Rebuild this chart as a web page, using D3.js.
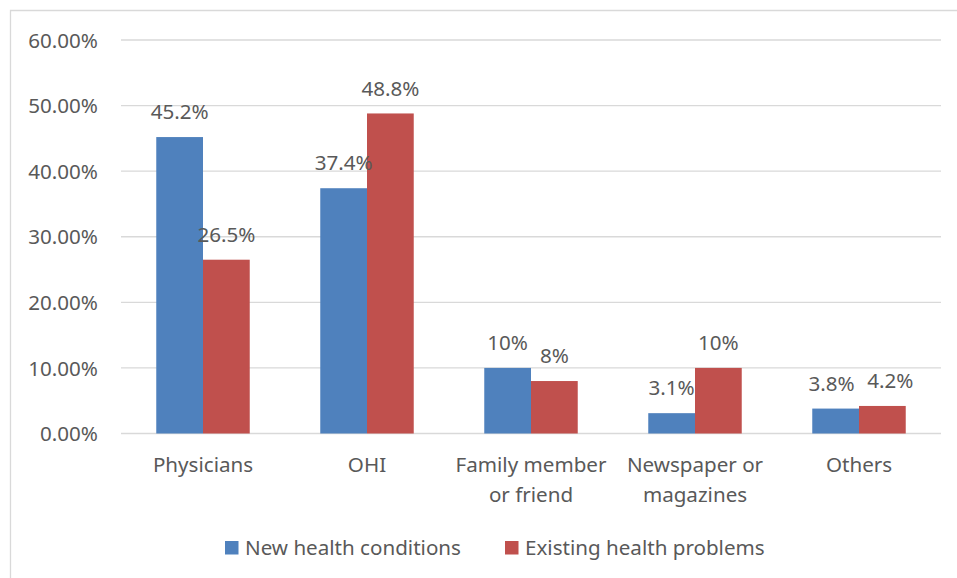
<!DOCTYPE html>
<meta charset="utf-8">
<script src="https://d3js.org/d3.v7.min.js"></script>
<style>
  body { margin: 0; background: #fff; }
  text { font-family: "Noto Sans", "Open Sans", sans-serif; fill: #595959; }
</style>
<div id="my_dataviz"></div>
<script>
    // data
    var categories = [["Physicians"], ["OHI"], ["Family member", "or friend"], ["Newspaper or", "magazines"], ["Others"]];
    var seriesNames = ["New health conditions", "Existing health problems"];
    var newValues = [45.2, 37.4, 10, 3.1, 3.8];
    var existingValues = [26.5, 48.8, 8, 10, 4.2];
    var newLabels = ["45.2%", "37.4%", "10%", "3.1%", "3.8%"];
    var existingLabels = ["26.5%", "48.8%", "8%", "10%", "4.2%"];
    var yTicks = [0, 10, 20, 30, 40, 50, 60];
    var colors = ["#4f81bd", "#c0504d"];

    var W = 957, H = 578;
    var fs = 20.6;
    var margin = {top: 40, right: 16, bottom: 144.5, left: 121},
        width = W - margin.left - margin.right,
        height = H - margin.top - margin.bottom;

    var root = d3.select("#my_dataviz")
        .append("svg")
        .attr("width", W)
        .attr("height", H);

    // chart frame (only top and left edges show in the crop)
    root.append("path")
        .attr("d", "M10.5,578V10.5H957")
        .attr("fill", "none")
        .attr("stroke", "#d9d9d9")
        .attr("stroke-width", 1.3);

    var svg = root.append("g")
        .attr("transform", "translate(" + margin.left + "," + margin.top + ")");

    var names = categories.map(function(d) { return d.join(" "); });

    var x = d3.scaleBand()
        .domain(names)
        .range([0, width]);

    var inner = d3.scaleBand()
        .domain([0, 1])
        .range([0, x.bandwidth() * 0.57])
        .padding(0);

    var y = d3.scaleLinear()
        .domain([0, 60])
        .range([height, 0]);

    // gridlines
    svg.append("g")
        .selectAll("line")
        .data(yTicks)
        .enter()
        .append("line")
        .attr("x1", 0)
        .attr("x2", width)
        .attr("y1", function(d) { return y(d); })
        .attr("y2", function(d) { return y(d); })
        .attr("stroke", "#d9d9d9")
        .attr("stroke-width", 1.3);

    // Y axis labels
    var yAxis = svg.append("g")
        .attr("transform", "translate(-23,0)")
        .call(d3.axisLeft(y).tickValues(yTicks).tickSize(0).tickPadding(0)
            .tickFormat(function(d) { return d.toFixed(2) + "%"; }));
    yAxis.select(".domain").remove();
    yAxis.selectAll("text")
        .attr("font-size", fs)
        .attr("font-family", null)
        .attr("fill", "#595959")
        .attr("dy", "0.35em");

    // X axis labels
    var xAxis = svg.append("g")
        .attr("transform", "translate(0," + height + ")")
        .call(d3.axisBottom(x).tickSize(0).tickFormat(""));
    xAxis.select(".domain").remove();
    xAxis.selectAll(".tick").each(function(d, i) {
        var t = d3.select(this).append("text")
            .attr("font-size", fs)
            .attr("text-anchor", "middle");
        categories[i].forEach(function(line, j) {
            t.append("tspan")
                .attr("x", 0)
                .attr("y", 38.5 + j * 29.5)
                .text(line);
        });
    });

    var series = [newValues, existingValues];
    var labels = [newLabels, existingLabels];
    var offset = (x.bandwidth() - inner.range()[1]) / 2;

    series.forEach(function(vals, s) {
        svg.append("g")
            .selectAll("rect")
            .data(vals)
            .enter()
            .append("rect")
            .attr("x", function(d, i) { return x(names[i]) + offset + inner(s); })
            .attr("y", function(d) { return y(d); })
            .attr("width", inner.bandwidth())
            .attr("height", function(d) { return height - y(d); })
            .attr("fill", colors[s]);
    });

    // labels that sit close together get pushed apart a little, like Excel does
    function nudge(d, i, s) {
        if (i === 4) return s === 0 ? -4 : 8;
        return 0;
    }

    series.forEach(function(vals, s) {
        svg.append("g")
            .selectAll("text")
            .data(vals)
            .enter()
            .append("text")
            .attr("x", function(d, i) { return x(names[i]) + offset + inner(s) + inner.bandwidth() / 2 + nudge(d, i, s); })
            .attr("y", function(d) { return y(d) - 25; })
            .attr("dy", "0.35em")
            .attr("text-anchor", "middle")
            .attr("font-size", fs)
            .text(function(d, i) { return labels[s][i]; });
    });

    // legend
    var legendX = [225, 505];
    var legend = root.append("g");
    seriesNames.forEach(function(n, i) {
        legend.append("rect")
            .attr("x", legendX[i])
            .attr("y", 541)
            .attr("width", 13.5)
            .attr("height", 13.5)
            .attr("fill", colors[i]);
        legend.append("text")
            .attr("x", legendX[i] + 20)
            .attr("y", 548)
            .attr("dy", "0.35em")
            .attr("font-size", fs)
            .text(n);
    });
</script>
